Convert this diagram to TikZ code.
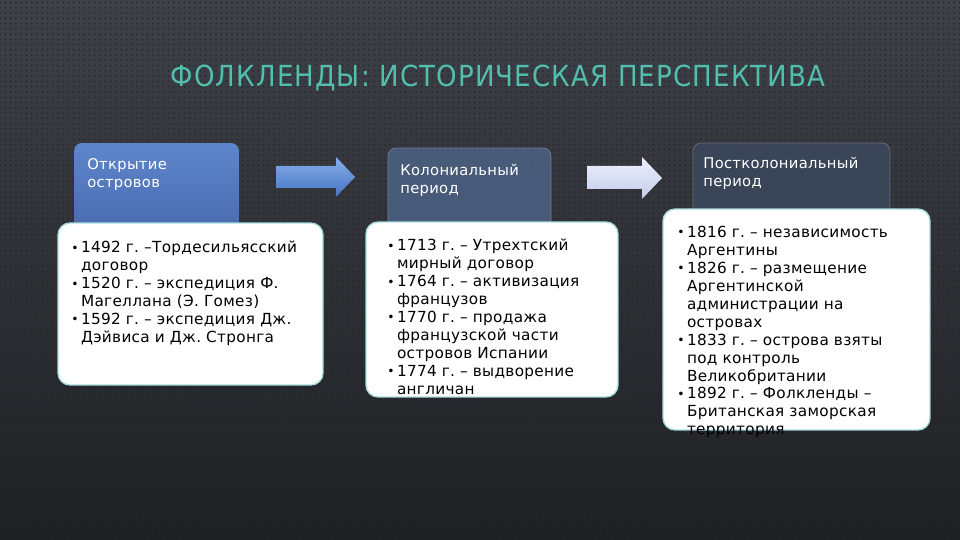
\documentclass[tikz,border=0pt]{standalone}
\usepackage{fontspec}
\setmainfont{DejaVu Sans}[LetterSpace=2]
\newfontfamily\ttlfont{DejaVu Sans Condensed}[LetterSpace=4]
\usepackage{xcolor}
\usetikzlibrary{patterns}
\frenchspacing

\definecolor{ttlcol}{HTML}{52BFAE}
\definecolor{bgtop}{HTML}{3E4148}
\definecolor{bgbot}{HTML}{1F2024}
\definecolor{hdAt}{HTML}{5E86CC}
\definecolor{hdAb}{HTML}{4868AC}
\definecolor{hdB}{HTML}{4B5F80}
\definecolor{hdC}{HTML}{3C485C}
\definecolor{cardedge}{HTML}{A6DCDD}
\definecolor{arAt}{HTML}{88AEE8}
\definecolor{arAb}{HTML}{4674C4}
\definecolor{arBt}{HTML}{EEF1FC}
\definecolor{arBb}{HTML}{C2CBEA}

\newcommand\bul[1]{\noindent\hangindent=5.5pt\hangafter=1\makebox[5.5pt][l]{\raisebox{0.4pt}{\scriptsize\textbullet}}#1\par}

\begin{document}
\begin{tikzpicture}[
  x=0.02cm, y=-0.02cm,
  hd/.style={rounded corners=0.16cm, inner sep=0pt},
  card/.style={draw=cardedge, line width=0.8pt, fill=white, rounded corners=0.24cm, inner sep=0pt},
  htxt/.style={anchor=north west, inner sep=0pt, align=left, text=white, font=\fontsize{8.4}{10.3}\selectfont},
  btxt/.style={anchor=north west, inner sep=0pt, text width=5.2cm, align=left, text=black, font=\fontsize{8.7}{10.2}\selectfont}
]
  \useasboundingbox (0,0) rectangle (960,540);
  \shade[top color=bgtop, bottom color=bgbot] (0,0) rectangle (960,540);
  \fill[pattern=dots, pattern color=black!85] (0,0) rectangle (960,540);

  \node[text=ttlcol, font=\ttlfont\fontsize{16.5}{18}\selectfont] (title) at (498,78) {ФОЛКЛЕНДЫ: ИСТОРИЧЕСКАЯ ПЕРСПЕКТИВА};

  \node[hd, top color=hdAt, bottom color=hdAb, minimum width=3.3cm, minimum height=1.94cm] (h1) at (156.5,191.5) {};
  \node[hd, fill=hdB, fill opacity=0.9, draw=hdB!80!white, minimum width=3.26cm, minimum height=1.84cm] (h2) at (469.5,194) {};
  \node[hd, fill=hdC, fill opacity=0.85, draw=hdC!80!white, minimum width=3.94cm, minimum height=1.74cm] (h3) at (791.5,186.5) {};

  \shade[top color=arAt, bottom color=arAb] (276,166) -- (336,166) -- (336,157) -- (355,177) -- (336,197) -- (336,188) -- (276,188) -- cycle;
  \shade[top color=arBt, bottom color=arBb] (587,166) -- (642,166) -- (642,157) -- (662,178) -- (642,199) -- (642,189) -- (587,189) -- cycle;

  \node[card, minimum width=5.3cm, minimum height=3.24cm] (c1) at (190.5,304) {};
  \node[card, minimum width=5.04cm, minimum height=3.5cm] (c2) at (492,309.5) {};
  \node[card, minimum width=5.34cm, minimum height=4.42cm] (c3) at (796.5,319.5) {};

  \node[htxt] (t1) at (87,158) {Открытие\\островов};
  \node[htxt] (t2) at (400,164) {Колониальный\\период};
  \node[htxt] (t3) at (703,157) {Постколониальный\\период};

  \node[btxt] (b1) at (71,241) {%
    \bul{1492 г. –Тордесильясский\newline договор}%
    \bul{1520 г. – экспедиция Ф.\newline Магеллана (Э. Гомез)}%
    \bul{1592 г. – экспедиция Дж.\newline Дэйвиса и Дж. Стронга}};
  \node[btxt] (b2) at (387,239) {%
    \bul{1713 г. – Утрехтский\newline мирный договор}%
    \bul{1764 г. – активизация\newline французов}%
    \bul{1770 г. – продажа\newline французской части\newline островов Испании}%
    \bul{1774 г. – выдворение\newline англичан}};
  \node[btxt] (b3) at (677,226) {%
    \bul{1816 г. – независимость\newline Аргентины}%
    \bul{1826 г. – размещение\newline Аргентинской\newline администрации на\newline островах}%
    \bul{1833 г. – острова взяты\newline под контроль\newline Великобритании}%
    \bul{1892 г. – Фолкленды –\newline Британская заморская\newline территория}};
\end{tikzpicture}
\end{document}
